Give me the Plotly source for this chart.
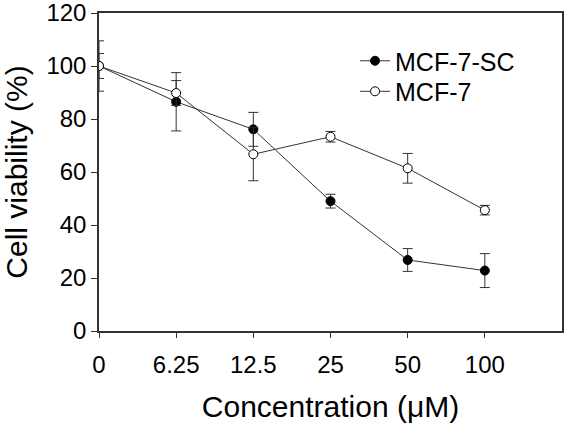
import plotly.graph_objects as go

concentrations = ["0", "6.25", "12.5", "25", "50", "100"]
sc_mean = [100, 86.5, 76.1, 49.0, 26.8, 22.8]
sc_err = [9.5, 11.0, 6.4, 2.6, 4.3, 6.4]
mcf_mean = [100, 89.8, 66.7, 73.3, 61.4, 45.6]
mcf_err = [4.7, 4.7, 10.0, 2.0, 5.6, 1.8]

FONT = "Arial, Liberation Sans, sans-serif"
LINE = "#333333"

fig = go.Figure()
fig.add_trace(go.Scatter(
    x=concentrations, y=sc_mean, name="MCF-7-SC", mode="lines+markers",
    line=dict(color=LINE, width=1), legend="legend",
    marker=dict(symbol="circle", size=9, color="black", line=dict(color="black", width=1)),
    error_y=dict(type="data", array=sc_err, visible=True, color=LINE, thickness=1, width=5),
))
fig.add_trace(go.Scatter(
    x=concentrations, y=mcf_mean, name="MCF-7", mode="lines+markers",
    line=dict(color=LINE, width=1), legend="legend2",
    marker=dict(symbol="circle", size=9, color="white", line=dict(color="black", width=1)),
    error_y=dict(type="data", array=mcf_err, visible=True, color=LINE, thickness=1, width=5),
))

legend_style = dict(
    xanchor="left", yanchor="middle",
    font=dict(size=25, family=FONT, color="black"),
    bgcolor="rgba(0,0,0,0)", borderwidth=0,
)

fig.update_layout(
    width=564, height=438,
    margin=dict(l=99, r=2, t=13, b=107, pad=0),
    paper_bgcolor="white", plot_bgcolor="white",
    font=dict(family=FONT, color="black"),
    showlegend=True,
    legend=dict(x=0.553, y=0.849, **legend_style),
    legend2=dict(x=0.553, y=0.753, **legend_style),
    xaxis=dict(
        type="category", categoryorder="array", categoryarray=concentrations,
        range=[0, 6], showgrid=False, zeroline=False,
        showline=True, linecolor=LINE, linewidth=1.5, mirror=True,
        ticks="outside", ticklen=5, tickcolor=LINE, tickwidth=1,
        ticklabelstandoff=6, ticklabeloverflow="allow",
        tickfont=dict(size=24, family=FONT, color="black"),
        title=dict(text="Concentration (\u03bcM)", font=dict(size=30, family=FONT, color="black"), standoff=19),
        automargin=False,
    ),
    yaxis=dict(
        range=[0, 120], dtick=20, showgrid=False, zeroline=False,
        showline=True, linecolor=LINE, linewidth=1.5, mirror=True,
        ticks="outside", ticklen=6, tickcolor=LINE, tickwidth=1,
        ticklabeloverflow="allow",
        tickfont=dict(size=24, family=FONT, color="black"),
        title=dict(text="Cell viability (%)", font=dict(size=30, family=FONT, color="black"), standoff=17),
        automargin=False,
    ),
)

fig.write_html("out.html")
